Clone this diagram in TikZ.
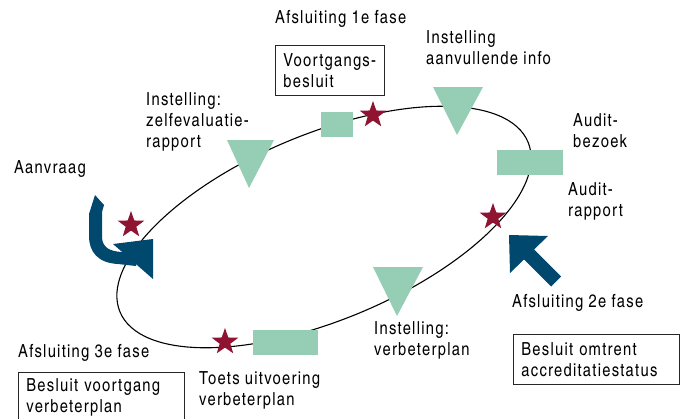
\documentclass[tikz,border=0pt]{standalone}
\usepackage{fontspec}
\setmainfont{TeX Gyre Heros Cn}[LetterSpace=7]
\usetikzlibrary{shapes.geometric}
\definecolor{mint}{RGB}{150,205,181}
\definecolor{wine}{RGB}{142,20,50}
\definecolor{petrol}{RGB}{0,72,110}
\begin{document}
\begin{tikzpicture}[x=1pt,y=-1pt,
  lbl/.style={anchor=base west, inner sep=0pt, align=left,
    font=\fontsize{18}{21}\selectfont},
  boxed/.style={draw=black!85, line width=0.8pt, anchor=north west,
    inner xsep=8pt, inner ysep=0pt, align=left, minimum height=50pt,
    font=\fontsize{18}{21}\selectfont},
  starmark/.style={star, star points=5, star point ratio=2.5, fill=wine,
    minimum size=28pt, inner sep=0pt},
  block/.style={fill=mint, draw=none},
  arrowfill/.style={fill=petrol, draw=none}]
\useasboundingbox (0,0) rectangle (687,418);

% the cycle
\draw[line width=1.1pt, rotate around={22.6:(324,227)}]
  (324,227) ellipse [x radius=221pt, y radius=93pt];

% green milestones on the cycle
\fill[block] (321,112) rectangle (353,137);
\fill[block] (497,150) rectangle (563,175);
\fill[block] (253,330) rectangle (318,355);
\fill[block] (227,140) -- (274,140) -- (249,188) -- cycle;
\fill[block] (433,87) -- (483,87) -- (457,135) -- cycle;
\fill[block] (373,267) -- (423,267) -- (397,316) -- cycle;

% decision stars
\node[starmark] (s1) at (373,115) {};
\node[starmark] (s2) at (493,217) {};
\node[starmark] (s3) at (131,225) {};
\node[starmark] (s4) at (225,342) {};

% entry arrow (Aanvraag)
\fill[arrowfill] (95,195) -- (104,205) -- (102,212) -- (102,238)
  .. controls (103,248) and (110,251) .. (121,252) -- (136,252)
  -- (136,266) -- (118,264)
  .. controls (98,263) and (89,252) .. (89,236) -- (89,214) -- cycle;
\fill[arrowfill] (113,244) -- (153,239) -- (153,279) -- cycle;

% arrow towards the audit report
\fill[arrowfill] (509,235) -- (548,236) -- (534,249.5) -- (561,276.5)
  -- (551,286.5) -- (524,259.5) -- (510,273) -- cycle;

% labels (multi-line labels sit on the baseline of their last line)
\node[lbl] (f1) at (275,23) {Afsluiting 1e fase};
\node[boxed, text width=93pt] (b1) at (275,45) {Voortgangs-\\besluit};
\node[lbl] (i1) at (426,64) {Instelling\\aanvullende info};
\node[lbl] (i2) at (146,147) {Instelling:\\zelfevaluatie-\\rapport};
\node[lbl] (av) at (14,173) {Aanvraag};
\node[lbl] (ab) at (573,147) {Audit-\\bezoek};
\node[lbl] (ar) at (568,216) {Audit-\\rapport};
\node[lbl] (f2) at (512,307) {Afsluiting 2e fase};
\node[boxed, text width=150pt] (b2) at (513,334) {Besluit omtrent\\accreditatiestatus};
\node[lbl] (i3) at (374,355) {Instelling:\\verbeterplan};
\node[lbl] (tv) at (199,405) {Toets uitvoering\\verbeterplan};
\node[lbl] (f3) at (18,357) {Afsluiting 3e fase};
\node[boxed, text width=150pt] (b3) at (18,372) {Besluit voortgang\\verbeterplan};
\end{tikzpicture}
\end{document}
